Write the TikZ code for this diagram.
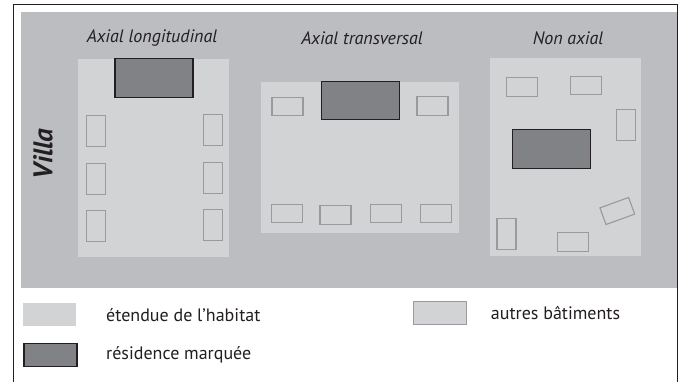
\documentclass[tikz,border=0pt]{standalone}
\usepackage{fontspec}
\setmainfont{PT Sans}
\definecolor{bggray}{HTML}{BCBDC0}
\definecolor{panelgray}{HTML}{D1D3D4}
\definecolor{resgray}{HTML}{808285}
\definecolor{inkc}{HTML}{231F20}
\definecolor{bldline}{HTML}{999A9D}
\begin{document}
\begin{tikzpicture}[x=1pt,y=-1pt,
  box/.style={rectangle,inner sep=0pt,outer sep=0pt,minimum width=#1},
  panel/.style={box=151pt,minimum height=198pt,fill=panelgray,draw=none},
  res/.style={box=78pt,minimum height=38.5pt,fill=resgray,draw=inkc,line width=1.1pt},
  hbld/.style={box=31pt,minimum height=18.6pt,fill=panelgray,draw=bldline,line width=1.1pt},
  vbld/.style={box=19pt,minimum height=31pt,fill=panelgray,draw=bldline,line width=1.1pt},
  ttl/.style={font=\itshape\fontsize{18}{20}\selectfont,text=inkc,inner sep=0pt},
  leg/.style={font=\fontsize{18}{20}\selectfont,text=inkc,inner sep=0pt,anchor=west}]
\useasboundingbox (0,0) rectangle (680,382);
\fill[white] (0,0) rectangle (680,382);
% background villa area
\node[rectangle,inner sep=0pt,fill=bggray,minimum width=656pt,minimum height=276pt] (villa) at (349,150) {};
\draw[inkc,line width=0.9pt] (13,382) -- (13,4) -- (677.5,4) -- (677.5,382);
% titles
\node[ttl] (t1) at (152,38) {Axial longitudinal};
\node[ttl] (t2) at (362,38) {Axial transversal};
\node[ttl] (t3) at (568,38) {Non axial};
\node[font=\bfseries\itshape\fontsize{27}{30}\selectfont,text=inkc,rotate=90,inner sep=0pt] (villalbl) at (43,154) {Villa};
% panel 1
\node[panel] (p1) at (153.5,158) {};
\node[res] (r1) at (154,78) {};
\node[vbld] (a1) at (96.2,131.2) {};
\node[vbld] (a2) at (96.2,178.7) {};
\node[vbld] (a3) at (96.2,226.2) {};
\node[vbld] (a4) at (212.8,130.2) {};
\node[vbld] (a5) at (212.8,177.8) {};
\node[vbld] (a6) at (212.8,225.3) {};
% panel 2
\node[panel,minimum width=198pt,minimum height=151pt] (p2) at (360,157.5) {};
\node[res] (r2) at (360.7,100.7) {};
\node[hbld] (b1) at (287.5,106.6) {};
\node[hbld] (b2) at (432.5,106) {};
\node[hbld] (b3) at (286.8,213.6) {};
\node[hbld] (b4) at (335.5,215) {};
\node[hbld] (b5) at (385.7,213.6) {};
\node[hbld] (b6) at (436,213.6) {};
% panel 3
\node[panel] (p3) at (565.5,157) {};
\node[res] (r3) at (551.3,149) {};
\node[hbld] (c1) at (522,86.8) {};
\node[hbld] (c2) at (586.2,85.5) {};
\node[vbld] (c3) at (626,125) {};
\node[hbld,rotate=20,minimum width=30.5pt,minimum height=17.7pt] (c4) at (617.3,211) {};
\node[vbld] (c5) at (506.5,234) {};
\node[hbld] (c6) at (573,242.2) {};
% legend
\node[box=53pt,minimum height=22.4pt,fill=panelgray] (lg1) at (49.5,314.5) {};
\node[res,minimum width=53pt,minimum height=22.7pt] (lg2) at (50.5,354.7) {};
\node[hbld,minimum width=53pt,minimum height=23pt] (lg3) at (439.8,312.8) {};
\node[leg] (lt1) at (106,315) {étendue de l’habitat};
\node[leg] (lt2) at (106,355) {résidence marquée};
\node[leg] (lt3) at (490.7,313) {autres bâtiments};
\end{tikzpicture}
\end{document}
